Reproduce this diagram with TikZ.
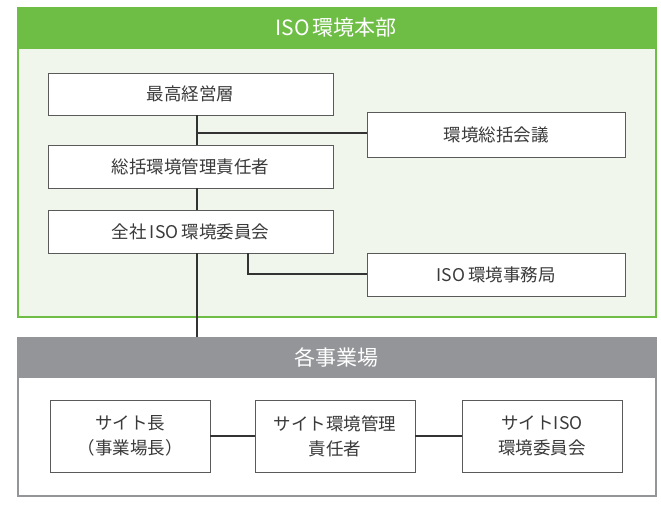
\documentclass[tikz,border=0pt]{standalone}
\usepackage{fontspec}
\setmainfont{Noto Sans CJK JP}
\newcommand{\isogap}{\hspace{3pt}}
\begin{document}
\begin{tikzpicture}[x=1pt,y=-1pt,
  box/.style={draw=boxline,line width=0.9pt,fill=white,text=txt,font=\fontsize{17.5}{25}\selectfont,align=center,inner sep=0pt},
  link/.style={draw=linkc,line width=2pt},
  hdr/.style={text=white,font=\fontsize{21}{24}\selectfont}]
\definecolor{grn}{HTML}{6EBE46}
\definecolor{lgrn}{HTML}{F1F6EC}
\definecolor{gry}{HTML}{939598}
\definecolor{boxline}{HTML}{5A5A5A}
\definecolor{linkc}{HTML}{333333}
\definecolor{txt}{HTML}{3A3A3A}
\useasboundingbox (0,0) rectangle (661,505);
\fill[white] (0,0) rectangle (661,505);
% green panel
\draw[grn,line width=2pt,fill=lgrn] (18,8) rectangle (656,317);
\fill[grn] (17,7) rectangle (657,49);
\node[hdr] (h1) at (336,28) {ISO\isogap 環境本部};
% gray panel
\draw[gry,line width=2pt,fill=white] (18,338) rectangle (656,496);
\fill[gry] (17,337) rectangle (657,378);
\node[hdr] (h2) at (336,357) {各事業場};
% trunk coordinates
\coordinate (trunkbot) at (197,337);
\coordinate (jA) at (197,133);
\coordinate (jB) at (248,274);
% boxes
\node[box,minimum width=285pt,minimum height=42pt] (b1) at (190.5,94) {最高経営層};
\node[box,minimum width=258pt,minimum height=45pt] (c1) at (496,134.5) {環境総括会議};
\node[box,minimum width=285pt,minimum height=43pt] (b2) at (190.5,166.5) {総括環境管理責任者};
\node[box,minimum width=285pt,minimum height=43pt] (b3) at (190.5,231.5) {全社\isogap ISO\isogap 環境委員会};
\node[box,minimum width=258pt,minimum height=43pt] (c2) at (496,274.5) {ISO\isogap 環境事務局};
\draw[link] (b1.south -| jA) -- (b2.north -| jA);
\draw[link] (jA) -- (c1.west |- jA);
\draw[link] (b2.south -| jA) -- (b3.north -| jA);
\draw[link] (b3.south -| jA) -- (trunkbot);
\draw[link] (b3.south -| jB) -- (jB) -- (c2.west |- jB);
% bottom boxes
\node[box,minimum width=160pt,minimum height=72pt] (d1) at (130,436) {サイト長\\（事業場長）};
\node[box,minimum width=160pt,minimum height=72pt] (d2) at (335,436) {サイト環境管理\\責任者};
\node[box,minimum width=160pt,minimum height=72pt] (d3) at (542,436) {サイトISO\\環境委員会};
\draw[link] (d1.east) -- (d2.west);
\draw[link] (d2.east) -- (d3.west);
\end{tikzpicture}
\end{document}
